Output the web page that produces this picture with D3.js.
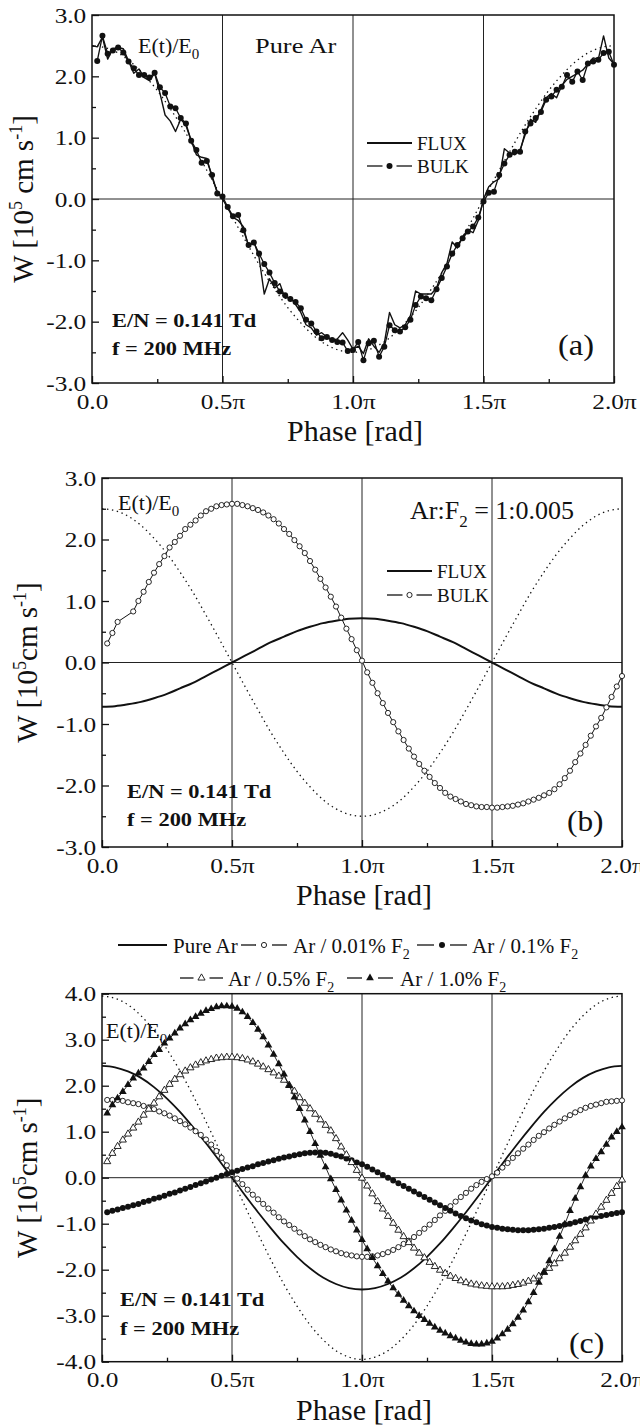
<!DOCTYPE html>
<html><head><meta charset="utf-8">
<script src="https://cdn.jsdelivr.net/npm/d3@7"></script>
<style>
body{margin:0;background:#fff}
svg{display:block}
text{font-family:"Liberation Serif","Times New Roman",serif;fill:#111}
</style>
</head><body>
<svg id="chart" width="640" height="1425"></svg>
<script>
// ---------------- DATA ----------------
// phase grid in units of pi
const PHASE = [0.00,0.02,0.04,0.06,0.08,0.10,0.12,0.14,0.16,0.18,0.20,0.22,0.24,0.26,0.28,0.30,0.32,0.34,0.36,0.38,0.40,0.42,0.44,0.46,0.48,0.50,0.52,0.54,0.56,0.58,0.60,0.62,0.64,0.66,0.68,0.70,0.72,0.74,0.76,0.78,0.80,0.82,0.84,0.86,0.88,0.90,0.92,0.94,0.96,0.98,1.00,1.02,1.04,1.06,1.08,1.10,1.12,1.14,1.16,1.18,1.20,1.22,1.24,1.26,1.28,1.30,1.32,1.34,1.36,1.38,1.40,1.42,1.44,1.46,1.48,1.50,1.52,1.54,1.56,1.58,1.60,1.62,1.64,1.66,1.68,1.70,1.72,1.74,1.76,1.78,1.80,1.82,1.84,1.86,1.88,1.90,1.92,1.94,1.96,1.98,2.00];
const PHASE_E = [0.00,0.05,0.10,0.15,0.20,0.25,0.30,0.35,0.40,0.45,0.50,0.55,0.60,0.65,0.70,0.75,0.80,0.85,0.90,0.95,1.00,1.05,1.10,1.15,1.20,1.25,1.30,1.35,1.40,1.45,1.50,1.55,1.60,1.65,1.70,1.75,1.80,1.85,1.90,1.95,2.00];
const X_TICKS = [0, 0.5, 1.0, 1.5, 2.0];
const X_TICK_LABELS = ["0.0", "0.5\u03c0", "1.0\u03c0", "1.5\u03c0", "2.0\u03c0"];
const X_MINOR = [0.25, 0.75, 1.25, 1.75];
const REF_PHASES = [0.5, 1.0, 1.5];

// Panel (a) pure Ar
const A_FLUX = [2.50,2.48,2.64,2.28,2.45,2.47,2.45,2.25,2.05,2.12,1.98,1.93,2.05,1.73,1.37,1.27,1.10,1.30,1.20,0.95,0.72,0.68,0.66,0.35,0.12,0.00,-0.15,-0.30,-0.35,-0.45,-0.78,-0.69,-0.95,-1.55,-1.30,-1.45,-1.38,-1.62,-1.60,-1.72,-1.85,-2.05,-2.10,-2.22,-2.18,-2.25,-2.30,-2.28,-2.18,-2.30,-2.45,-2.40,-2.52,-2.28,-2.40,-2.50,-2.35,-1.85,-2.05,-2.10,-2.05,-1.90,-1.50,-1.55,-1.55,-1.55,-1.45,-1.20,-1.05,-0.70,-0.80,-0.62,-0.50,-0.55,-0.35,0.00,0.20,0.28,0.33,0.82,0.75,0.72,0.80,1.05,1.30,1.25,1.45,1.65,1.72,1.65,1.85,1.95,2.00,2.05,2.10,2.20,2.30,2.28,2.66,2.30,2.20];
const A_BULK = [null,2.25,2.66,2.37,2.42,2.47,2.39,2.24,2.13,2.02,2.02,1.98,2.06,1.82,1.73,1.51,1.48,1.32,1.23,0.95,0.80,0.59,0.62,0.39,0.09,0.04,-0.13,-0.28,-0.26,-0.51,-0.75,-0.71,-0.89,-1.06,-1.20,-1.37,-1.51,-1.57,-1.63,-1.68,-1.78,-1.97,-2.03,-2.16,-2.27,-2.25,-2.30,-2.33,-2.34,-2.48,-2.46,-2.33,-2.63,-2.35,-2.31,-2.57,-2.41,-2.06,-2.14,-2.16,-2.09,-1.97,-1.73,-1.59,-1.62,-1.65,-1.47,-1.29,-1.10,-0.89,-0.75,-0.64,-0.53,-0.45,-0.30,-0.04,0.10,0.12,0.39,0.58,0.72,0.77,0.77,1.10,1.23,1.32,1.42,1.62,1.67,1.78,1.83,2.02,1.91,2.08,1.94,2.21,2.24,2.27,2.38,2.40,2.19];
const A_FIELD = [2.50,2.47,2.38,2.23,2.02,1.77,1.47,1.14,0.77,0.39,0.00,-0.39,-0.77,-1.14,-1.47,-1.77,-2.02,-2.23,-2.38,-2.47,-2.50,-2.47,-2.38,-2.23,-2.02,-1.77,-1.47,-1.14,-0.77,-0.39,0.00,0.39,0.77,1.14,1.47,1.77,2.02,2.23,2.38,2.47,2.50];

// Panel (b) Ar:F2 = 1:0.005
const B_FLUX = [-0.72,-0.71,-0.68,-0.64,-0.58,-0.51,-0.42,-0.33,-0.22,-0.11,0.00,0.11,0.22,0.33,0.42,0.51,0.58,0.64,0.68,0.71,0.72,0.71,0.68,0.64,0.58,0.51,0.42,0.33,0.22,0.11,0.00,-0.11,-0.22,-0.33,-0.42,-0.51,-0.58,-0.64,-0.68,-0.71,-0.72];
const B_BULK = [null,0.31,0.48,0.66,null,null,0.83,1.00,1.15,1.31,1.46,1.60,1.73,1.87,1.96,2.06,2.17,2.24,2.31,2.39,2.46,2.50,2.54,2.56,2.57,2.58,2.58,2.56,2.54,2.51,2.48,2.44,2.39,2.33,2.26,2.17,2.09,1.99,1.89,1.78,1.65,1.51,1.36,1.22,1.07,0.91,0.73,0.55,0.38,0.20,0.03,-0.16,-0.33,-0.50,-0.66,-0.82,-0.97,-1.12,-1.26,-1.40,-1.53,-1.65,-1.76,-1.86,-1.96,-2.04,-2.12,-2.18,-2.22,-2.26,-2.30,-2.32,-2.34,-2.35,-2.35,-2.36,-2.36,-2.35,-2.34,-2.33,-2.31,-2.29,-2.26,-2.23,-2.20,-2.16,-2.12,-2.06,-1.98,-1.88,-1.76,-1.62,-1.48,-1.34,-1.19,-1.04,-0.90,-0.73,-0.56,-0.39,-0.22];
const B_FIELD = [2.50,2.47,2.38,2.23,2.02,1.77,1.47,1.14,0.77,0.39,0.00,-0.39,-0.77,-1.14,-1.47,-1.77,-2.02,-2.23,-2.38,-2.47,-2.50,-2.47,-2.38,-2.23,-2.02,-1.77,-1.47,-1.14,-0.77,-0.39,0.00,0.39,0.77,1.14,1.47,1.77,2.02,2.23,2.38,2.47,2.50];

// Panel (c) mixtures
const C_PURE = [2.43,2.40,2.31,2.17,1.97,1.72,1.43,1.10,0.75,0.38,0.00,-0.38,-0.75,-1.10,-1.43,-1.72,-1.97,-2.17,-2.31,-2.40,-2.43,-2.40,-2.31,-2.17,-1.97,-1.72,-1.43,-1.10,-0.75,-0.38,0.00,0.38,0.75,1.10,1.43,1.72,1.97,2.17,2.31,2.40,2.43];
const C_F001 = [null,1.69,1.69,1.69,1.67,1.64,1.62,1.60,1.56,1.53,1.49,1.44,1.40,1.35,1.29,1.23,1.16,1.09,1.01,0.93,0.83,0.72,0.58,0.43,0.27,0.08,-0.02,-0.14,-0.26,-0.37,-0.47,-0.57,-0.67,-0.76,-0.86,-0.95,-1.03,-1.11,-1.19,-1.27,-1.34,-1.40,-1.46,-1.51,-1.56,-1.60,-1.64,-1.67,-1.69,-1.71,-1.72,-1.72,-1.71,-1.69,-1.66,-1.62,-1.57,-1.51,-1.44,-1.37,-1.29,-1.20,-1.11,-1.02,-0.92,-0.82,-0.72,-0.62,-0.52,-0.42,-0.33,-0.24,-0.16,-0.09,-0.03,0.03,0.11,0.22,0.32,0.43,0.53,0.63,0.72,0.82,0.91,0.99,1.07,1.15,1.22,1.29,1.36,1.42,1.47,1.52,1.56,1.59,1.62,1.65,1.66,1.67,1.68];
const C_F01 = [null,-0.75,-0.72,-0.69,-0.66,-0.63,-0.60,-0.57,-0.53,-0.50,-0.46,-0.43,-0.39,-0.35,-0.32,-0.28,-0.24,-0.20,-0.16,-0.12,-0.08,-0.04,0.00,0.04,0.08,0.12,0.15,0.19,0.22,0.25,0.29,0.32,0.35,0.38,0.41,0.44,0.46,0.49,0.51,0.53,0.54,0.55,0.55,0.54,0.52,0.49,0.46,0.42,0.38,0.33,0.29,0.24,0.18,0.12,0.06,0.00,-0.06,-0.12,-0.18,-0.24,-0.30,-0.36,-0.42,-0.48,-0.54,-0.60,-0.66,-0.72,-0.78,-0.83,-0.88,-0.93,-0.97,-1.01,-1.04,-1.07,-1.09,-1.11,-1.12,-1.13,-1.14,-1.14,-1.14,-1.13,-1.12,-1.11,-1.09,-1.07,-1.05,-1.02,-1.00,-0.97,-0.94,-0.91,-0.88,-0.85,-0.83,-0.81,-0.79,-0.77,-0.75];
const C_F05 = [null,0.35,0.53,0.68,0.82,0.95,1.08,1.21,1.36,1.49,1.62,1.76,1.90,2.03,2.14,2.24,2.32,2.39,2.45,2.50,2.54,2.57,2.60,2.61,2.62,2.62,2.61,2.59,2.56,2.52,2.47,2.41,2.35,2.28,2.21,2.12,2.01,1.88,1.74,1.62,1.50,1.38,1.26,1.14,1.02,0.85,0.67,0.50,0.33,0.16,-0.01,-0.18,-0.35,-0.52,-0.68,-0.84,-0.99,-1.14,-1.28,-1.41,-1.53,-1.64,-1.74,-1.84,-1.93,-2.01,-2.08,-2.14,-2.19,-2.24,-2.28,-2.31,-2.33,-2.35,-2.36,-2.37,-2.37,-2.37,-2.36,-2.34,-2.32,-2.29,-2.25,-2.20,-2.14,-2.06,-1.97,-1.87,-1.76,-1.64,-1.51,-1.37,-1.23,-1.09,-0.94,-0.79,-0.64,-0.49,-0.34,-0.19,-0.05];
const C_F10 = [null,1.40,1.58,1.73,1.87,2.02,2.16,2.27,2.38,2.52,2.67,2.78,2.92,3.03,3.14,3.25,3.34,3.43,3.50,3.57,3.63,3.67,3.71,3.73,3.73,3.72,3.68,3.60,3.50,3.37,3.22,3.06,2.88,2.68,2.47,2.25,2.00,1.75,1.50,1.25,1.00,0.74,0.48,0.23,-0.03,-0.26,-0.49,-0.71,-0.93,-1.14,-1.35,-1.55,-1.74,-1.92,-2.09,-2.25,-2.40,-2.54,-2.67,-2.79,-2.90,-3.00,-3.09,-3.17,-3.25,-3.32,-3.38,-3.44,-3.49,-3.54,-3.58,-3.61,-3.62,-3.62,-3.60,-3.56,-3.49,-3.40,-3.30,-3.18,-3.04,-2.88,-2.70,-2.50,-2.28,-2.05,-1.81,-1.55,-1.28,-1.01,-0.72,-0.45,-0.20,0.05,0.25,0.41,0.56,0.72,0.88,1.00,1.10];
const C_FIELD = [3.95,3.90,3.76,3.52,3.20,2.79,2.32,1.79,1.22,0.62,0.00,-0.62,-1.22,-1.79,-2.32,-2.79,-3.20,-3.52,-3.76,-3.90,-3.95,-3.90,-3.76,-3.52,-3.20,-2.79,-2.32,-1.79,-1.22,-0.62,0.00,0.62,1.22,1.79,2.32,2.79,3.20,3.52,3.76,3.90,3.95];

const C_LEGEND = ["Pure Ar", "Ar / 0.01% F", "Ar / 0.1% F", "Ar / 0.5% F", "Ar / 1.0% F"];

// ---------------- DRAWING ----------------
const svg = d3.select("#chart");
const INK = "#111";
const SERIF = '"Liberation Serif","Times New Roman",serif';

function pts(phases, vals) {
  return phases.map((p, i) => ({p, v: vals[i]})).filter(d => d.v !== null && d.v !== undefined);
}

function panel(cfg) {
  const g = svg.append("g");
  const x = d3.scaleLinear().domain([0, 2]).range([cfg.left, cfg.right]);
  const y = d3.scaleLinear().domain(cfg.yDomain).range([cfg.bottom, cfg.top]);

  g.selectAll("line.vref").data(REF_PHASES).join("line").attr("class", "vref")
    .attr("x1", d => x(d)).attr("x2", d => x(d)).attr("y1", cfg.top).attr("y2", cfg.bottom)
    .attr("stroke", "#222").attr("stroke-width", 1);
  g.append("line").attr("x1", cfg.left).attr("x2", cfg.right).attr("y1", y(0)).attr("y2", y(0))
    .attr("stroke", "#222").attr("stroke-width", 1);

  const styleAxis = s => {
    s.select(".domain").remove();
    s.selectAll("line").attr("stroke", INK).attr("stroke-width", 1.3);
    s.selectAll("text").attr("font-size", 22).attr("fill", INK)
      .attr("font-family", SERIF).attr("transform", "scale(1.15,1)");
  };
  g.append("g").attr("transform", `translate(${cfg.left},0)`)
    .call(d3.axisLeft(y).tickValues(cfg.yMajor).tickSize(-7).tickPadding(5).tickFormat(d => d.toFixed(1)))
    .call(styleAxis);
  g.append("g").attr("transform", `translate(${cfg.left},0)`)
    .call(d3.axisLeft(y).tickValues(cfg.yMinor).tickSize(-4).tickFormat(""))
    .call(styleAxis);
  g.append("g").attr("transform", `translate(0,${cfg.bottom})`)
    .call(d3.axisBottom(x).tickValues(X_TICKS).tickSize(-7).tickPadding(10)
      .tickFormat((d, i) => X_TICK_LABELS[i]))
    .call(styleAxis);
  g.append("g").attr("transform", `translate(0,${cfg.bottom})`)
    .call(d3.axisBottom(x).tickValues(X_MINOR).tickSize(-4).tickFormat(""))
    .call(styleAxis);

  g.append("rect").attr("x", cfg.left).attr("y", cfg.top)
    .attr("width", cfg.right - cfg.left).attr("height", cfg.bottom - cfg.top)
    .attr("fill", "none").attr("stroke", INK).attr("stroke-width", 1.5);

  // axis titles
  g.append("text").attr("x", (cfg.left + cfg.right) / 2 + 2).attr("y", cfg.bottom + 58)
    .attr("text-anchor", "middle").attr("font-size", 30).text("Phase [rad]");
  const t = g.append("text")
    .attr("transform", `translate(${cfg.titleX},${(cfg.top + cfg.bottom) / 2}) rotate(-90)`)
    .attr("text-anchor", "middle").attr("font-size", 29);
  t.append("tspan").text("W  [10");
  t.append("tspan").attr("dy", -11).attr("font-size", 18).text("5");
  t.append("tspan").attr("dy", 11).text(cfg.spaced ? " cm s" : "cm s");
  t.append("tspan").attr("dy", -11).attr("font-size", 18).text("-1");
  t.append("tspan").attr("dy", 11).text("]");
  return {g, x, y};
}

function drawLine(P, data, opts) {
  const line = d3.line().x(d => P.x(d.p)).y(d => P.y(d.v)).curve(opts.curve || d3.curveLinear);
  P.g.append("path").datum(data).attr("d", line).attr("fill", "none")
    .attr("stroke", INK).attr("stroke-width", opts.width || 1)
    .attr("stroke-dasharray", opts.dash || null).attr("stroke-linejoin", "round");
}

function markerShape(sel, type) {
  if (type === "dot") sel.append("circle").attr("r", 3).attr("fill", INK);
  else if (type === "ocircle") sel.append("circle").attr("r", 2.6).attr("fill", "#fff").attr("stroke", INK).attr("stroke-width", 0.9);
  else if (type === "otri") sel.append("path").attr("d", d3.symbol(d3.symbolTriangle, 22)()).attr("fill", "#fff").attr("stroke", INK).attr("stroke-width", 0.9);
  else if (type === "ftri") sel.append("path").attr("d", d3.symbol(d3.symbolTriangle, 26)()).attr("fill", INK);
}

function drawMarkers(P, data, type) {
  P.g.append("g").selectAll("g").data(data).join("g")
    .attr("transform", d => `translate(${P.x(d.p)},${P.y(d.v)})`)
    .each(function () { markerShape(d3.select(this), type); });
}

function fieldCurve(P, vals) {
  drawLine(P, pts(PHASE_E, vals), {width: 1.3, dash: "1.4,3.6", curve: d3.curveMonotoneX});
}

function txt(g, x, y, size, s, opts = {}) {
  const t = g.append("text").attr("transform", `translate(${x},${y}) scale(${opts.sx || 1},1)`)
    .attr("font-size", size);
  if (opts.bold) t.attr("font-weight", "bold");
  t.append("tspan").text(s);
  if (opts.sub) t.append("tspan").attr("dy", opts.subDy || 6).attr("font-size", opts.subSize || 15).text(opts.sub);
  if (opts.after) t.append("tspan").attr("dy", -(opts.subDy || 6)).text(opts.after);
  return t;
}

function legendSym(g, x1, x2, y, type, gap) {
  const mid = (x1 + x2) / 2;
  if (!type) {
    g.append("line").attr("x1", x1).attr("x2", x2).attr("y1", y).attr("y2", y).attr("stroke", INK).attr("stroke-width", 1.8);
    return;
  }
  [[x1, mid - gap], [mid + gap, x2]].forEach(([a, b]) =>
    g.append("line").attr("x1", a).attr("x2", b).attr("y1", y).attr("y2", y).attr("stroke", INK).attr("stroke-width", 1.3));
  const m = g.append("g").attr("transform", `translate(${mid},${y})`);
  markerShape(m, type);
}

// ---- Panel (a)
const PA = panel({left: 92, right: 614, top: 15, bottom: 383, yDomain: [-3, 3],
  yMajor: [-3, -2, -1, 0, 1, 2, 3], yMinor: [-2.5, -1.5, -0.5, 0.5, 1.5, 2.5], titleX: 33, spaced: true});
fieldCurve(PA, A_FIELD);
drawLine(PA, pts(PHASE, A_FLUX), {width: 1.4});
drawLine(PA, pts(PHASE, A_BULK), {width: 1.3});
drawMarkers(PA, pts(PHASE, A_BULK), "dot");
txt(PA.g, 138, 53, 22, "E(t)/E", {sub: "0"});
txt(PA.g, 255, 53, 22, "Pure Ar", {sx: 1.2});
legendSym(PA.g, 367, 412, 143, null);
txt(PA.g, 417, 150, 19, "FLUX");
legendSym(PA.g, 367, 412, 166, "dot", 7);
txt(PA.g, 417, 173, 19, "BULK");
txt(PA.g, 112, 327, 19, "E/N = 0.141 Td", {bold: true, sx: 1.18});
txt(PA.g, 112, 355, 19, "f = 200 MHz", {bold: true, sx: 1.18});
txt(PA.g, 558, 355, 29, "(a)", {sx: 1.12});

// ---- Panel (b)
const PB = panel({left: 102, right: 622, top: 478, bottom: 847, yDomain: [-3, 3],
  yMajor: [-3, -2, -1, 0, 1, 2, 3], yMinor: [-2.5, -1.5, -0.5, 0.5, 1.5, 2.5], titleX: 37, spaced: false});
fieldCurve(PB, B_FIELD);
drawLine(PB, pts(PHASE_E, B_FLUX), {width: 2, curve: d3.curveMonotoneX});
drawLine(PB, pts(PHASE, B_BULK), {width: 1});
drawMarkers(PB, pts(PHASE, B_BULK), "ocircle");
txt(PB.g, 118, 510, 22, "E(t)/E", {sub: "0"});
txt(PB.g, 410, 519, 26, "Ar:F", {sub: "2", subSize: 17, subDy: 8, after: " = 1:0.005"});
legendSym(PB.g, 387, 432, 571, null);
txt(PB.g, 437, 578, 19, "FLUX");
legendSym(PB.g, 387, 432, 595, "ocircle", 7);
txt(PB.g, 437, 602, 19, "BULK");
txt(PB.g, 127, 798, 19, "E/N = 0.141 Td", {bold: true, sx: 1.18});
txt(PB.g, 127, 826, 19, "f = 200 MHz", {bold: true, sx: 1.18});
txt(PB.g, 567, 831, 29, "(b)", {sx: 1.08});

// ---- Panel (c)
const PC = panel({left: 102, right: 622, top: 993.7, bottom: 1361.7, yDomain: [-4, 4],
  yMajor: [-4, -3, -2, -1, 0, 1, 2, 3, 4], yMinor: [-3.5, -2.5, -1.5, -0.5, 0.5, 1.5, 2.5, 3.5], titleX: 37, spaced: false});
fieldCurve(PC, C_FIELD);
drawLine(PC, pts(PHASE_E, C_PURE), {width: 1.8, curve: d3.curveMonotoneX});
[[C_F001, "ocircle"], [C_F01, "dot"], [C_F05, "otri"], [C_F10, "ftri"]].forEach(([vals, type]) => {
  drawLine(PC, pts(PHASE, vals), {width: 0.9});
  drawMarkers(PC, pts(PHASE, vals), type);
});
txt(PC.g, 106, 1038, 22, "E(t)/E", {sub: "0"});
txt(PC.g, 120, 1306, 19, "E/N = 0.141 Td", {bold: true, sx: 1.18});
txt(PC.g, 120, 1335, 19, "f = 200 MHz", {bold: true, sx: 1.18});
txt(PC.g, 569, 1353, 29, "(c)", {sx: 1.1});

// legend (c)
const LG = svg.append("g");
const legendRows = [
  {x1: 118, x2: 167, y: 945, type: null, tx: 173},
  {x1: 241, x2: 287, y: 945, type: "ocircle", tx: 293},
  {x1: 417, x2: 467, y: 945, type: "dot", tx: 472},
  {x1: 180, x2: 223, y: 978, type: "otri", tx: 228},
  {x1: 347, x2: 393, y: 978, type: "ftri", tx: 400}
];
legendRows.forEach((r, i) => {
  legendSym(LG, r.x1, r.x2, r.y, r.type, 8);
  txt(LG, r.tx, r.y + 8, 21, C_LEGEND[i], i === 0 ? {} : {sub: "2", subSize: 14, subDy: 6});
});
</script>
</body></html>
